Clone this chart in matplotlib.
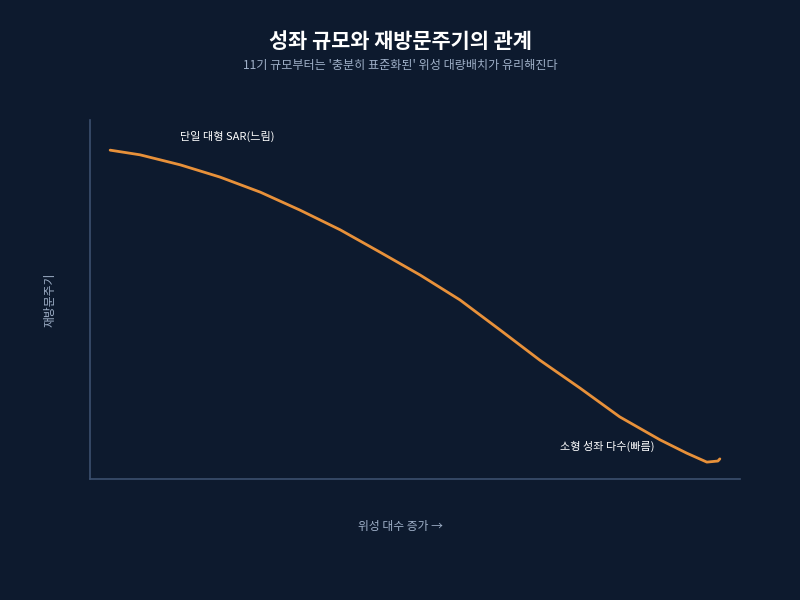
import matplotlib
matplotlib.use('Agg')
import matplotlib.pyplot as plt

plt.rcParams['font.family'] = ['Noto Sans CJK KR', 'DejaVu Sans']

# Data (relative scale 0-100, no ticks shown)
satellite_count = [3.1, 7.7, 13.9, 20.0, 26.2, 32.3, 38.5, 44.6, 50.8, 56.9,
                   63.1, 69.2, 75.4, 81.5, 87.7, 91.8, 94.9, 96.6, 96.9]
revisit_period = [91.6, 90.3, 87.5, 84.1, 79.9, 74.9, 69.4, 63.2, 56.8, 49.9,
                  41.5, 33.1, 25.3, 17.3, 10.9, 7.2, 4.7, 5.0, 5.6]

title = '성좌 규모와 재방문주기의 관계'
subtitle = "11기 규모부터는 '충분히 표준화된' 위성 대량배치가 유리해진다"
xlabel = '위성 대수 증가 →'
ylabel = '재방문주기'
note_slow = '단일 대형 SAR(느림)'
note_fast = '소형 성좌 다수(빠름)'

bg = '#0d1a2e'
spine_col = '#3b4f6e'
muted = '#9fb0c8'
orange = '#e8913a'

fig = plt.figure(figsize=(8, 6), dpi=100, facecolor=bg)
ax = fig.add_axes([0.1125, 0.2017, 0.8125, 0.5983])
ax.set_facecolor(bg)

ax.plot(satellite_count, revisit_period, color=orange, linewidth=2.0,
        solid_capstyle='round', solid_joinstyle='round')

ax.set_xlim(0, 100)
ax.set_ylim(0, 100)
ax.set_xticks([])
ax.set_yticks([])
for side in ['top', 'right']:
    ax.spines[side].set_visible(False)
for side in ['left', 'bottom']:
    ax.spines[side].set_color(spine_col)
    ax.spines[side].set_linewidth(1.2)

ax.text(13.8, 95.5, note_slow, color='white', fontsize=8, fontweight='medium',
        ha='left', va='center')
ax.text(72.3, 9.2, note_fast, color='white', fontsize=8, fontweight='medium',
        ha='left', va='center')

fig.text(0.5, 0.93, title, color='white', fontsize=15, fontweight='bold',
         ha='center', va='center')
fig.text(0.5, 0.89, subtitle, color=muted, fontsize=8.7, ha='center', va='center')
fig.text(0.5, 0.123, xlabel, color=muted, fontsize=8.5, ha='center', va='center')
fig.text(0.0625, 0.5, ylabel, color=muted, fontsize=8.5, ha='center', va='center',
         rotation=90)

fig.savefig('out.png', dpi=100, facecolor=bg)
